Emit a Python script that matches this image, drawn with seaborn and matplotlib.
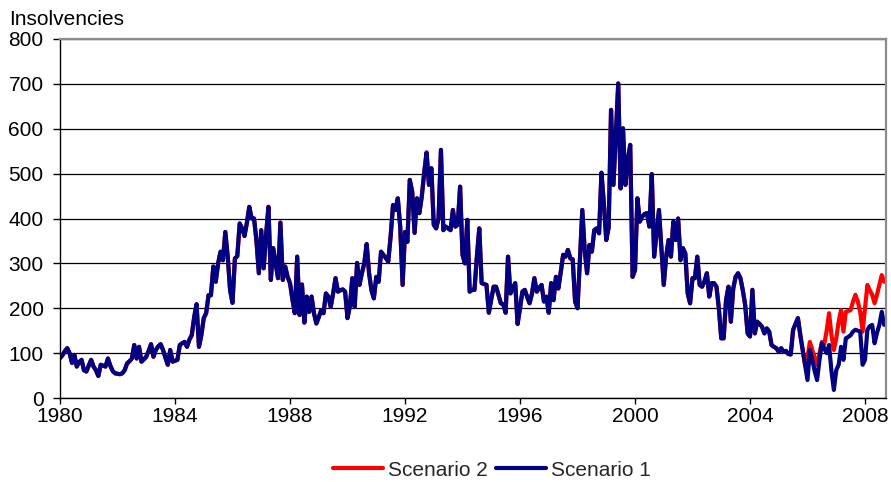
import matplotlib
matplotlib.use("Agg")
import matplotlib.pyplot as plt
import pandas as pd
import seaborn as sns

# Monthly insolvencies from January 1980 (one row per year)
scenario_1 = [
    89, 95, 104, 111, 100, 78, 96, 70, 80, 85, 62, 59,
    72, 85, 70, 62, 49, 74, 72, 70, 88, 72, 60, 55,
    54, 53, 55, 62, 77, 82, 88, 118, 88, 114, 81, 86,
    92, 105, 120, 92, 107, 115, 120, 107, 90, 74, 107, 81,
    83, 85, 118, 122, 125, 114, 130, 140, 180, 209, 114, 140,
    178, 189, 229, 229, 293, 259, 300, 326, 307, 370, 315, 240,
    212, 311, 316, 389, 378, 361, 390, 426, 400, 400, 350, 278,
    374, 289, 363, 426, 263, 334, 300, 267, 391, 263, 293, 270,
    256, 220, 189, 315, 185, 253, 168, 226, 192, 226, 189, 166,
    180, 196, 189, 233, 226, 203, 233, 267, 237, 240, 242, 237,
    178, 205, 267, 203, 301, 252, 278, 300, 343, 278, 240, 222,
    270, 259, 326, 319, 312, 304, 360, 430, 419, 445, 382, 252,
    370, 348, 486, 460, 368, 445, 412, 449, 501, 547, 475, 512,
    386, 378, 400, 553, 374, 382, 378, 374, 419, 382, 386, 471,
    319, 300, 397, 237, 241, 241, 315, 378, 256, 254, 252, 190,
    220, 248, 248, 230, 211, 209, 190, 315, 233, 245, 256, 165,
    200, 237, 241, 225, 211, 233, 267, 237, 245, 252, 215, 226,
    190, 256, 218, 270, 244, 280, 319, 315, 330, 311, 309, 215,
    200, 307, 419, 330, 278, 341, 326, 374, 378, 367, 502, 434,
    352, 380, 642, 475, 590, 701, 467, 601, 475, 530, 564, 270,
    285, 445, 393, 404, 410, 412, 382, 499, 315, 367, 419, 337,
    252, 315, 352, 315, 393, 352, 400, 307, 334, 322, 233, 211,
    267, 267, 315, 252, 248, 260, 278, 226, 256, 256, 248, 200,
    133, 133, 218, 248, 170, 244, 270, 278, 267, 240, 207, 144,
    137, 241, 144, 170, 165, 159, 144, 155, 148, 118, 114, 111,
    103, 111, 103, 105, 98, 97, 152, 165, 178, 140, 107, 74,
    40, 107, 85, 60, 40, 85, 122, 110, 100, 118, 60, 18,
    62, 74, 114, 85, 133, 136, 140, 148, 152, 150, 148, 74,
    85, 152, 160, 163, 122, 145, 163, 192, 163,
]

# Scenario 2 follows scenario 1 until January 2006, then runs higher
split_month = 312
scenario_2_tail = [
    92, 125, 107, 90, 74, 100, 125, 120, 150, 189, 140, 107,
    133, 170, 196, 148, 192, 194, 196, 215, 230, 215, 192, 148,
    200, 252, 240, 230, 211, 230, 252, 274, 259,
]
scenario_2 = scenario_1[:split_month] + scenario_2_tail

start_year = 1980
year_ticks = [1980, 1984, 1988, 1992, 1996, 2000, 2004, 2008]
y_ticks = [0, 100, 200, 300, 400, 500, 600, 700, 800]

n = len(scenario_1)
dates = [start_year + m / 12 for m in range(n)]
df = pd.DataFrame({
    "date": dates + dates,
    "insolvencies": scenario_2 + scenario_1,
    "scenario": ["Scenario 2"] * n + ["Scenario 1"] * n,
})

sns.set_theme(style="white")
plt.rcParams["font.family"] = ["Liberation Sans", "DejaVu Sans"]
fs = 15
lw = 3.0

W, H = 891, 482
fig = plt.figure(figsize=(W / 100, H / 100), dpi=100, facecolor="white")
ax = fig.add_axes([60 / W, 1 - 398 / H, 826 / W, 359 / H])

sns.lineplot(
    data=df, x="date", y="insolvencies", hue="scenario",
    hue_order=["Scenario 2", "Scenario 1"],
    palette={"Scenario 2": "#FF0000", "Scenario 1": "#000080"},
    linewidth=lw, ax=ax, legend=True,
)
for ln in ax.lines:
    ln.set_solid_joinstyle("round")
    ln.set_solid_capstyle("round")

handles, labels = ax.get_legend_handles_labels()
ax.get_legend().remove()
leg = fig.legend(
    handles, labels, loc="center", bbox_to_anchor=(492 / W, 1 - 470 / H),
    ncol=2, frameon=False, fontsize=fs, handlelength=2.4,
    handletextpad=0.25, columnspacing=0.4, borderpad=0,
)
for h in leg.legend_handles:
    h.set_linewidth(lw)

# 28.75 px per year over an 826 px wide plot area
ax.set_xlim(start_year, start_year + 826 / 28.75)
ax.set_ylim(0, 800)
ax.set_xlabel("")
ax.set_ylabel("")

ax.set_yticks(y_ticks)
ax.set_yticklabels([str(v) for v in y_ticks])
ax.yaxis.grid(True, color="black", linewidth=0.9)
ax.xaxis.grid(False)
ax.set_axisbelow(True)

ax.set_xticks(year_ticks)
ax.set_xticklabels([str(y) for y in year_ticks])

ax.tick_params(axis="x", length=4.5, width=1, direction="out", pad=2,
               labelsize=fs, colors="black", bottom=True)
ax.tick_params(axis="y", length=4.8, width=1, direction="out", pad=7,
               labelsize=fs, colors="black", left=True)

for side in ("left", "bottom"):
    ax.spines[side].set_color("black")
    ax.spines[side].set_linewidth(1)
for side in ("top", "right"):
    ax.spines[side].set_color("#8c8c8c")
    ax.spines[side].set_linewidth(1.6)

fig.text(9 / W, 1 - 25 / H, "Insolvencies", ha="left", va="baseline",
         fontsize=fs, color="black")

fig.savefig("out.png", dpi=100, facecolor="white")
